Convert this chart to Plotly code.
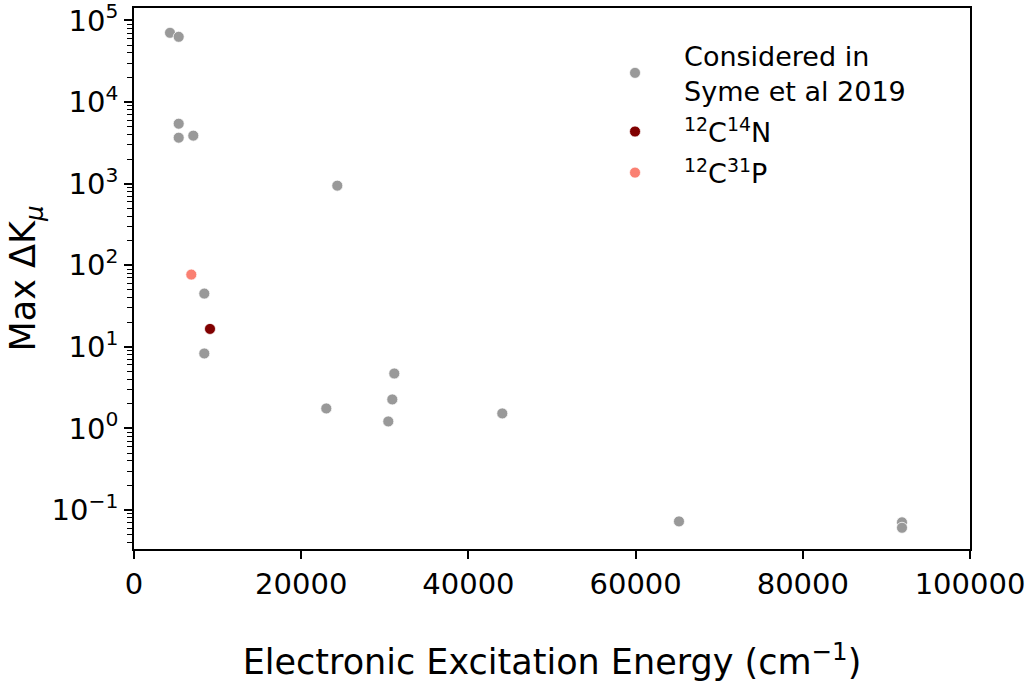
"""
Max Delta K_mu against electronic excitation energy (log y).
"""

import plotly.graph_objects as go

# ── Data ────────────────────────────────────────────────────────
syme_energy = [4306, 5347, 5347, 5347, 7093, 24318, 8409, 8409,
               31136, 30897, 23002, 30419, 44055, 65190, 91866, 91866]
syme_dk = [70600, 63100, 5430, 3660, 3880, 946, 45.0, 8.3,
           4.72, 2.27, 1.76, 1.22, 1.53, 0.0727, 0.0708, 0.0607]

cn_energy = [9091]
cn_dk = [16.6]

cp_energy = [6854]
cp_dk = [76.9]

x_ticks = [0, 20000, 40000, 60000, 80000, 100000]
y_exponents = [-1, 0, 1, 2, 3, 4, 5]

# ── Colours / fonts ─────────────────────────────────────────────
GREY = "#999999"
DARK_RED = "#800000"
SALMON = "#FA8072"
FONT = "DejaVu Sans, sans-serif"

fig = go.Figure()


def _add(x, y, name, color, group):
    fig.add_trace(go.Scatter(
        x=x, y=y, mode="markers", name=name, legendgroup=group,
        marker=dict(size=11, color=color, line=dict(width=0.75, color="white")),
    ))


_add(syme_energy, syme_dk, "Considered in<br>Syme et al 2019", GREY, "a")
_add(cn_energy, cn_dk, "<sup>12</sup>C<sup>14</sup>N", DARK_RED, "b")
_add(cp_energy, cp_dk, "<sup>12</sup>C<sup>31</sup>P", SALMON, "c")

axis_common = dict(
    showline=True, linecolor="black", linewidth=1.8, mirror=True,
    showgrid=False, zeroline=False, automargin=False,
    ticks="outside", ticklen=8, tickwidth=1.8, tickcolor="black",
    ticklabeloverflow="allow",
    tickfont=dict(size=29, color="black", family=FONT),
)

# minor tick positions for the log axis (2..9 x 10^k)
minor_vals = [m * 10.0 ** k for k in range(-2, 6) for m in range(2, 10)]

fig.update_xaxes(
    range=[0, 100000], tickvals=x_ticks, ticktext=[str(v) for v in x_ticks],
    title=dict(text="Electronic Excitation Energy (cm<sup>−1</sup>)",
               font=dict(size=35, color="black", family=FONT), standoff=50),
    **axis_common,
)
fig.update_yaxes(
    type="log", range=[-1.477, 5.153],
    tickvals=[10.0 ** e for e in y_exponents],
    ticktext=["10<sup>%s</sup>" % str(e).replace("-", "−") for e in y_exponents],
    minor=dict(ticks="outside", ticklen=5, tickwidth=1.3, tickcolor="black",
               tickvals=minor_vals, showgrid=False),
    title=dict(text="Max ΔK<sub><i>μ</i></sub>",
               font=dict(size=35, color="black", family=FONT), standoff=5),
    **axis_common,
)

fig.update_layout(
    width=1035, height=688,
    paper_bgcolor="white", plot_bgcolor="white",
    font=dict(family=FONT, color="black"),
    margin=dict(l=134, r=65, t=8, b=139),
    showlegend=True,
    legend=dict(
        x=0.5407, y=0.957, xanchor="left", yanchor="top",
        font=dict(size=27, color="black", family=FONT),
        bgcolor="rgba(0,0,0,0)", borderwidth=0,
        itemwidth=88, tracegroupgap=3,
    ),
)

# drop the browser's default 8px body margin so the figure sits at the page corner
fig.write_html(
    "out.html",
    config={"displayModeBar": False},
    post_script="document.body.style.margin = '0';",
)
